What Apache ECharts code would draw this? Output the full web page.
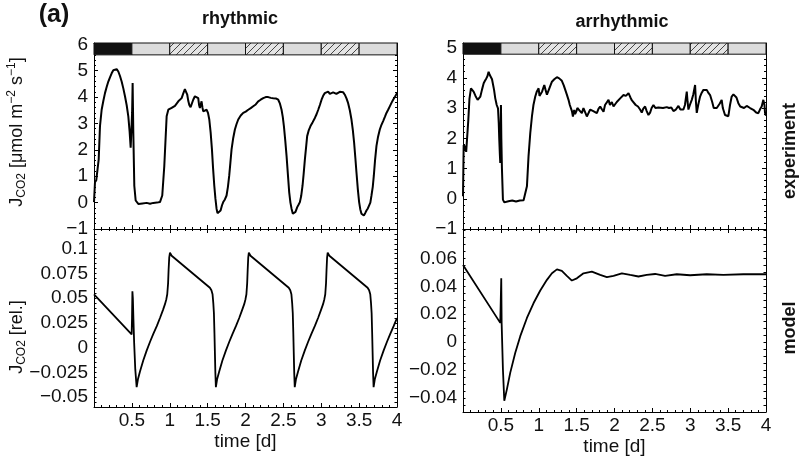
<!DOCTYPE html>
<html>
<head>
<meta charset="utf-8">
<script src="https://cdn.jsdelivr.net/npm/echarts@6/dist/echarts.min.js"></script>
<style>
  html, body { margin: 0; padding: 0; background: #fff; }
  #chart { width: 799px; height: 462px; }
</style>
</head>
<body>
<div id="chart"></div>
<script>
// time [d], J_CO2 [umol m-2 s-1]
const rhythmicExp = [
  [0, 0.02], [0.013, 0.77], [0.03, 0.85], [0.044, 0.89], [0.062, 1.64], [0.079, 2.9], [0.101, 3.52], [0.123, 3.85],
  [0.145, 4.15], [0.167, 4.38], [0.189, 4.59], [0.211, 4.75], [0.233, 4.9], [0.255, 5.02], [0.277, 5.09], [0.299, 5.06],
  [0.321, 4.97], [0.343, 4.8], [0.365, 4.59], [0.387, 4.33], [0.409, 4.03], [0.431, 3.7], [0.453, 3.27], [0.47, 2.7],
  [0.484, 2.08], [0.497, 2.02], [0.503, 3.4], [0.51, 4.53], [0.515, 3.5], [0.519, 2.65], [0.532, 0.64], [0.55, 0.08],
  [0.585, -0.05], [0.64, -0.03], [0.695, -0.01], [0.74, -0.04], [0.783, -0.01], [0.83, 0.0], [0.871, 0.02], [0.901, 0.27],
  [0.928, 1.39], [0.959, 3.27], [0.981, 3.52], [1.003, 3.55], [1.025, 3.59], [1.047, 3.55], [1.069, 3.67], [1.091, 3.72],
  [1.113, 3.84], [1.135, 3.88], [1.157, 3.96], [1.18, 4.15], [1.2, 4.3], [1.215, 4.2], [1.231, 4.09], [1.245, 3.85],
  [1.258, 3.7], [1.275, 3.62], [1.289, 3.65], [1.31, 3.9], [1.332, 4.03], [1.355, 4.0], [1.376, 3.96], [1.387, 3.7],
  [1.398, 3.59], [1.42, 3.84], [1.432, 3.6], [1.442, 3.46], [1.465, 3.48], [1.486, 3.52], [1.505, 3.4], [1.522, 3.15],
  [1.54, 2.65], [1.557, 2.02], [1.572, 1.3], [1.588, 0.64], [1.603, 0.15], [1.618, -0.23], [1.63, -0.4], [1.64, -0.46],
  [1.655, -0.42], [1.671, -0.3], [1.69, -0.1], [1.706, 0.02], [1.728, 0.12], [1.75, 0.27], [1.768, 0.6], [1.785, 1.02],
  [1.8, 1.5], [1.816, 2.02], [1.838, 2.45], [1.86, 2.77], [1.882, 2.98], [1.904, 3.15], [1.937, 3.3], [1.97, 3.4],
  [2.003, 3.45], [2.036, 3.52], [2.069, 3.58], [2.102, 3.65], [2.135, 3.72], [2.168, 3.84], [2.2, 3.9], [2.234, 3.96],
  [2.267, 4.0], [2.3, 4.0], [2.333, 3.97], [2.366, 3.96], [2.4, 3.95], [2.432, 3.9], [2.455, 3.75], [2.476, 3.52],
  [2.492, 3.25], [2.507, 2.9], [2.525, 2.35], [2.542, 1.77], [2.56, 1.05], [2.577, 0.39], [2.593, 0.0], [2.608, -0.23],
  [2.625, -0.42], [2.639, -0.49], [2.66, -0.35], [2.683, -0.17], [2.7, -0.08], [2.718, 0.02], [2.735, 0.25], [2.753, 0.64],
  [2.768, 1.1], [2.784, 1.64], [2.8, 2.1], [2.814, 2.52], [2.836, 2.75], [2.858, 2.9], [2.887, 3.05], [2.916, 3.21],
  [2.938, 3.35], [2.96, 3.52], [2.982, 3.7], [3.004, 3.9], [3.025, 4.05], [3.047, 4.15], [3.07, 4.2], [3.091, 4.21],
  [3.113, 4.12], [3.135, 4.09], [3.157, 4.18], [3.179, 4.21], [3.2, 4.12], [3.223, 4.09], [3.245, 4.2], [3.267, 4.25],
  [3.29, 4.18], [3.311, 4.09], [3.333, 3.95], [3.355, 3.77], [3.377, 3.5], [3.399, 3.15], [3.417, 2.75], [3.434, 2.27],
  [3.45, 1.7], [3.465, 1.14], [3.483, 0.5], [3.5, 0.02], [3.515, -0.25], [3.531, -0.42], [3.547, -0.48], [3.562, -0.49],
  [3.58, -0.4], [3.597, -0.3], [3.615, -0.22], [3.632, -0.17], [3.648, 0.0], [3.663, 0.27], [3.68, 0.6], [3.694, 1.02],
  [3.71, 1.6], [3.729, 2.15], [3.75, 2.5], [3.773, 2.77], [3.795, 2.95], [3.817, 3.09], [3.84, 3.25], [3.861, 3.4],
  [3.883, 3.52], [3.905, 3.65], [3.927, 3.78], [3.949, 3.9], [3.975, 4.02], [4.0, 4.15]
];

const arrhythmicExp = [
  [0, 0.08], [0.009, 1.78], [0.02, 1.72], [0.03, 1.7], [0.042, 1.55], [0.053, 1.51], [0.07, 2.6], [0.085, 3.3],
  [0.105, 3.65], [0.12, 3.6], [0.14, 3.54], [0.165, 3.4], [0.193, 3.27], [0.21, 3.3], [0.229, 3.38], [0.25, 3.6],
  [0.273, 3.82], [0.29, 3.9], [0.308, 3.98], [0.322, 4.05], [0.338, 4.2], [0.352, 4.1], [0.369, 4.04], [0.383, 3.95],
  [0.396, 3.93], [0.41, 3.6], [0.426, 3.32], [0.445, 3.1], [0.462, 2.99], [0.472, 2.5], [0.479, 1.95], [0.486, 1.5],
  [0.492, 1.18], [0.497, 2.2], [0.501, 3.1], [0.506, 2.0], [0.514, 1.0], [0.527, -0.03], [0.545, -0.12], [0.558, -0.14],
  [0.6, -0.08], [0.65, -0.06], [0.7, -0.09], [0.75, -0.06], [0.8, -0.05], [0.822, -0.03], [0.844, 0.41], [0.865, 1.4],
  [0.888, 2.17], [0.91, 2.72], [0.93, 3.1], [0.954, 3.38], [0.975, 3.55], [0.998, 3.65], [1.01, 3.4], [1.02, 3.35],
  [1.045, 3.55], [1.073, 3.76], [1.09, 3.6], [1.108, 3.44], [1.14, 3.65], [1.174, 3.87], [1.205, 3.95], [1.24, 4.02],
  [1.27, 3.98], [1.305, 3.9], [1.33, 3.75], [1.35, 3.6], [1.37, 3.45], [1.393, 3.27], [1.41, 3.1], [1.424, 3.16],
  [1.438, 2.9], [1.451, 2.72], [1.468, 2.94], [1.48, 2.8], [1.495, 2.88], [1.51, 3.0], [1.525, 3.05], [1.545, 2.9],
  [1.569, 2.83], [1.59, 3.0], [1.613, 3.05], [1.635, 2.72], [1.66, 2.85], [1.68, 2.95], [1.701, 3.0], [1.72, 2.9],
  [1.745, 2.95], [1.767, 2.83], [1.79, 2.98], [1.811, 3.05], [1.835, 2.95], [1.855, 2.88], [1.875, 3.1], [1.9, 3.15],
  [1.921, 3.27], [1.94, 3.1], [1.965, 3.2], [1.987, 3.05], [2.01, 3.1], [2.03, 3.2], [2.055, 3.25], [2.075, 3.32],
  [2.1, 3.38], [2.119, 3.43], [2.15, 3.4], [2.185, 3.49], [2.21, 3.35], [2.23, 3.25], [2.251, 3.27], [2.28, 3.1],
  [2.31, 3.05], [2.338, 2.95], [2.36, 2.85], [2.38, 2.98], [2.404, 3.05], [2.425, 2.9], [2.448, 2.77], [2.47, 2.85],
  [2.49, 3.0], [2.514, 3.1], [2.54, 3.0], [2.56, 3.05], [2.58, 3.02], [2.602, 3.05], [2.64, 3.0], [2.69, 3.03],
  [2.72, 3.0], [2.75, 3.02], [2.778, 2.9], [2.81, 2.95], [2.844, 3.07], [2.87, 2.95], [2.91, 2.95], [2.93, 3.1],
  [2.954, 3.54], [2.965, 3.2], [2.976, 2.95], [2.995, 3.1], [3.02, 3.27], [3.04, 3.45], [3.064, 3.76], [3.075, 3.2],
  [3.086, 2.84], [3.105, 3.1], [3.13, 3.38], [3.15, 3.5], [3.174, 3.6], [3.195, 3.58], [3.218, 3.6], [3.24, 3.5],
  [3.262, 3.43], [3.29, 3.2], [3.31, 3.0], [3.327, 2.94], [3.35, 3.0], [3.371, 3.05], [3.39, 3.15], [3.415, 3.27],
  [3.43, 3.0], [3.459, 2.77], [3.48, 2.8], [3.503, 2.73], [3.525, 3.1], [3.547, 3.38], [3.57, 3.45], [3.591, 3.43],
  [3.61, 3.35], [3.635, 3.16], [3.66, 3.05], [3.679, 3.05], [3.71, 3.0], [3.745, 3.07], [3.79, 3.0], [3.833, 2.94],
  [3.87, 2.85], [3.899, 2.83], [3.92, 2.95], [3.943, 3.05], [3.965, 3.27], [3.98, 3.1], [3.987, 2.84], [4.0, 2.75]
];

// model output, relative units
const rhythmicModel = [
  [0, 0.054], [0.497, 0.0134], [0.502, 0.03], [0.507, 0.057], [0.513, 0.05], [0.52, 0.03], [0.53, 0.005], [0.545, -0.022],
  [0.563, -0.040], [0.58, -0.032], [0.607, -0.024], [0.65, -0.013], [0.695, -0.003], [0.74, 0.006], [0.783, 0.014],
  [0.83, 0.022], [0.871, 0.030], [0.91, 0.038], [0.937, 0.044], [0.955, 0.049], [0.967, 0.054], [0.978, 0.065],
  [0.985, 0.079], [0.993, 0.091], [1.003, 0.096], [1.025, 0.093], [1.53, 0.0606], [1.55, 0.058], [1.565, 0.054],
  [1.575, 0.045], [1.583, 0.035], [1.59, 0.015], [1.596, -0.005], [1.602, -0.025], [1.609, -0.040],
  [1.625, -0.032], [1.653, -0.024], [1.695, -0.013], [1.741, -0.003], [1.786, 0.006], [1.829, 0.014], [1.875, 0.022],
  [1.917, 0.030], [1.955, 0.038], [1.983, 0.044], [2.0, 0.049], [2.012, 0.054], [2.022, 0.065], [2.029, 0.079],
  [2.036, 0.091], [2.044, 0.096], [2.066, 0.093], [2.571, 0.0606], [2.591, 0.058], [2.606, 0.054], [2.616, 0.045],
  [2.624, 0.035], [2.631, 0.015], [2.637, -0.005], [2.643, -0.025], [2.65, -0.040],
  [2.666, -0.032], [2.694, -0.024], [2.736, -0.013], [2.782, -0.003], [2.827, 0.006], [2.87, 0.014], [2.916, 0.022],
  [2.958, 0.030], [2.996, 0.038], [3.024, 0.044], [3.041, 0.049], [3.053, 0.054], [3.063, 0.065], [3.07, 0.079],
  [3.077, 0.091], [3.085, 0.096], [3.107, 0.093], [3.612, 0.0606], [3.632, 0.058], [3.647, 0.054], [3.657, 0.045],
  [3.665, 0.035], [3.672, 0.015], [3.678, -0.005], [3.684, -0.025], [3.691, -0.040],
  [3.707, -0.032], [3.735, -0.024], [3.777, -0.013], [3.823, -0.003], [3.868, 0.006], [3.911, 0.014], [3.957, 0.022],
  [4.0, 0.030]
];

const arrhythmicModel = [
  [0, 0.0552], [0.492, 0.0138], [0.505, 0.0457], [0.51, 0.0138], [0.527, -0.0194], [0.545, -0.042], [0.58, -0.0336],
  [0.624, -0.0218], [0.69, -0.0076], [0.756, 0.0043], [0.844, 0.0173], [0.932, 0.028], [1.02, 0.037], [1.108, 0.0446],
  [1.174, 0.0493], [1.24, 0.0521], [1.305, 0.051], [1.371, 0.0474], [1.437, 0.0441], [1.503, 0.0457], [1.591, 0.0493],
  [1.701, 0.0505], [1.811, 0.0481], [1.899, 0.0465], [1.987, 0.0474], [2.097, 0.0493], [2.207, 0.0481], [2.316, 0.047],
  [2.426, 0.0481], [2.536, 0.0488], [2.668, 0.0474], [2.822, 0.0486], [2.998, 0.0479], [3.218, 0.0486], [3.437, 0.0481],
  [3.701, 0.0486], [4.0, 0.0486]
];

// light regime above the experiment panels: [start, end, kind]  0 dark, 1 light, 2 hatched
const lightStrip = [
  [0, 0.5, 0], [0.5, 1, 1], [1, 1.5, 2], [1.5, 2, 1], [2, 2.5, 2], [2.5, 3, 1], [3, 3.5, 2], [3.5, 4, 1]
];

const FONT = 'Liberation Sans, Arial, Helvetica, sans-serif';
const TICK_SIZE = 19;

const hatch = document.createElement('canvas');
hatch.width = 7;
hatch.height = 7;
const hctx = hatch.getContext('2d');
hctx.fillStyle = '#e4e4e4';
hctx.fillRect(0, 0, 7, 7);
hctx.strokeStyle = '#333';
hctx.lineWidth = 0.9;
hctx.beginPath();
hctx.moveTo(0, 7); hctx.lineTo(7, 0);
hctx.moveTo(-1, 1); hctx.lineTo(1, -1);
hctx.moveTo(6, 8); hctx.lineTo(8, 6);
hctx.stroke();

const myChart = echarts.init(document.getElementById('chart'))

function fmt(v) {
  return String(parseFloat(v.toFixed(4))).replace('-', '\u2212')
}

function onStep(v, step) {
  const k = v / step
  return Math.abs(k - Math.round(k)) < 1e-6
}

const tickBase = {
  axisLine: { onZero: false, lineStyle: { color: '#000', width: 1 } },
  axisTick: { inside: true, length: 4, lineStyle: { color: '#000' } },
  minorTick: { show: true, length: 2, lineStyle: { color: '#000' } },
  splitLine: { show: false },
  minorSplitLine: { show: false }
}

const xAxis = []
const yAxis = []

// grids: 0 rhythmic exp, 1 rhythmic model, 2 arrhythmic exp, 3 arrhythmic model
const grid = [
  { left: 94, top: 43, width: 303, height: 186 },
  { left: 94, top: 229, width: 303, height: 178 },
  { left: 463, top: 43, width: 303, height: 186 },
  { left: 463, top: 229, width: 303, height: 183 }
]

const ySpecs = [
  { min: -1, max: 6.05, interval: 1, split: 5, step: 1 },
  { min: -0.06, max: 0.12, interval: 0.005, split: 1, step: 0.025, top: 0.1 },
  { min: -1, max: 5.15, interval: 1, split: 5, step: 1 },
  { min: -0.05, max: 0.081, interval: 0.005, split: 1, step: 0.02, top: 0.06 }
]

for (let g = 0; g < 4; g++) {
  const bottomPanel = g % 2 === 1
  xAxis.push({
    ...tickBase, gridIndex: g, type: 'value', position: 'bottom', min: 0, max: 4, interval: 0.5,
    minorTick: { ...tickBase.minorTick, splitNumber: 5 },
    axisLabel: bottomPanel
      ? { color: '#111', fontFamily: FONT, fontSize: TICK_SIZE, margin: 4, formatter: v => (v === 0 ? '' : fmt(v)) }
      : { show: false },
    name: bottomPanel ? 'time [d]' : '',
    nameLocation: 'middle',
    nameGap: 25,
    nameTextStyle: { color: '#111', fontFamily: FONT, fontSize: TICK_SIZE }
  })
  xAxis.push({
    ...tickBase, gridIndex: g, type: 'value', position: 'top', min: 0, max: 4, interval: 0.5,
    minorTick: { ...tickBase.minorTick, splitNumber: 5 },
    axisLabel: { show: false }
  })
  const s = ySpecs[g]
  const yb = {
    ...tickBase, gridIndex: g, type: 'value', min: s.min, max: s.max, interval: s.interval,
    minorTick: { ...tickBase.minorTick, show: s.split > 1, splitNumber: s.split },
    axisTick: { ...tickBase.axisTick, length: s.split > 1 ? 4 : 2.5 }
  }
  yAxis.push({
    ...yb, position: 'left',
    axisLabel: {
      color: '#111', fontFamily: FONT, fontSize: TICK_SIZE, margin: 6,
      formatter: v => {
        if (!onStep(v, s.step)) return ''
        if (s.top !== undefined && v > s.top + 1e-9) return ''
        return fmt(v)
      }
    }
  })
  yAxis.push({ ...yb, position: 'right', axisLabel: { show: false } })
}

function lineSeries(g, data, width) {
  return {
    type: 'line', xAxisIndex: 2 * g, yAxisIndex: 2 * g, data: data,
    showSymbol: false, symbol: 'none',
    lineStyle: { color: '#000', width: width },
    clip: true, z: 3
  }
}

function stripSeries(g, low, high) {
  return {
    type: 'custom', xAxisIndex: 2 * g, yAxisIndex: 2 * g, data: lightStrip,
    encode: { x: [0, 1], y: 2 },
    z: 5,
    renderItem: function (params, api) {
      const p0 = api.coord([api.value(0), high])
      const p1 = api.coord([api.value(1), low])
      const kind = api.value(2)
      return {
        type: 'rect',
        shape: { x: p0[0], y: p0[1], width: p1[0] - p0[0], height: p1[1] - p0[1] },
        style: {
          fill: kind === 0 ? '#111' : kind === 1 ? '#dcdcdc' : { type: 'pattern', image: hatch, repeat: 'repeat' },
          stroke: '#111',
          lineWidth: 1
        }
      }
    }
  }
}

const sideLabel = (text, x, y) => ({
  type: 'text', x: x, y: y, rotation: Math.PI / 2,
  style: { text: text, fill: '#111', font: 'bold 18px ' + FONT, align: 'center', verticalAlign: 'middle' }
})

const option = {
  animation: false,
  backgroundColor: '#fff',
  grid: grid,
  xAxis: xAxis,
  yAxis: yAxis,
  series: [
    lineSeries(0, rhythmicExp, 2),
    lineSeries(1, rhythmicModel, 1.8),
    lineSeries(2, arrhythmicExp, 2),
    lineSeries(3, arrhythmicModel, 1.8),
    stripSeries(0, 5.6, 6.05),
    stripSeries(2, 4.78, 5.15)
  ],
  graphic: [
    { type: 'text', x: 54, y: 15, style: { text: '(a)', fill: '#111', font: 'bold 25px ' + FONT, align: 'center', verticalAlign: 'middle' } },
    { type: 'text', x: 240, y: 19, style: { text: 'rhythmic', fill: '#111', font: 'bold 18px ' + FONT, align: 'center', verticalAlign: 'middle' } },
    { type: 'text', x: 622, y: 22, style: { text: 'arrhythmic', fill: '#111', font: 'bold 18px ' + FONT, align: 'center', verticalAlign: 'middle' } },
    sideLabel('experiment', 790, 151),
    sideLabel('model', 790, 328),
    {
      type: 'text', x: 17, y: 132, rotation: Math.PI / 2,
      style: {
        text: '{a|J}{sub|CO2}{a| [\u03bcmol m}{sup|\u22122}{a| s}{sup|\u22121}{a|]}',
        align: 'center', verticalAlign: 'middle',
        rich: {
          a: { fontFamily: FONT, fontSize: 18, fill: '#111' },
          sub: { fontFamily: FONT, fontSize: 12, fill: '#111', padding: [10, 0, 0, 0] },
          sup: { fontFamily: FONT, fontSize: 12, fill: '#111', padding: [0, 0, 10, 0] }
        }
      }
    },
    {
      type: 'text', x: 17, y: 337, rotation: Math.PI / 2,
      style: {
        text: '{a|J}{sub|CO2}{a| [rel.]}',
        align: 'center', verticalAlign: 'middle',
        rich: {
          a: { fontFamily: FONT, fontSize: 18, fill: '#111' },
          sub: { fontFamily: FONT, fontSize: 12, fill: '#111', padding: [10, 0, 0, 0] }
        }
      }
    }
  ]
}

myChart.setOption(option)
</script>
</body>
</html>
